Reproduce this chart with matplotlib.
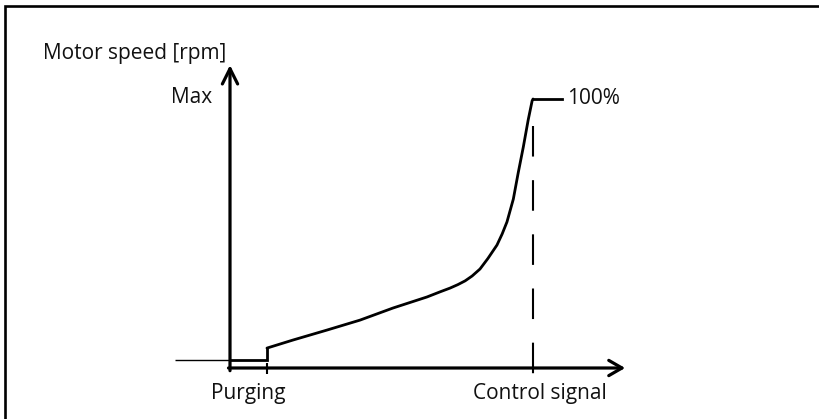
import matplotlib
matplotlib.use("Agg")
import matplotlib.pyplot as plt
from matplotlib.patches import Rectangle

plt.rcParams['font.family'] = ['Open Sans', 'DejaVu Sans']
plt.rcParams['lines.scale_dashes'] = False

# Data (control signal in %, motor speed in % of Max)
curve_x = [12.2, 20.8, 32.0, 42.9, 53.8, 65.0, 69.3, 72.6, 75.2, 77.6, 79.9, 82.5, 85.1,
           88.1, 89.8, 91.4, 93.5, 95.1, 96.8, 98.4, 99.7, 100.0]
curve_y = [7.4, 10.4, 14.1, 17.8, 22.3, 26.4, 28.3, 29.7, 31.0, 32.4, 34.2, 36.8, 40.7,
           45.7, 49.8, 54.3, 62.8, 72.5, 82.2, 92.2, 99.3, 100.0]
purge_x = [0.0, 12.2, 12.2]
purge_y = [3.0, 3.0, 7.4]
lead_x = [-18.2, 0.0]
lead_y = [3.0, 3.0]
top_x = [100.0, 109.6]
top_y = [100.0, 100.0]
purging_pos = 12.2
control_pos = 100.0
axis_x_end = 130.4
axis_y_end = 112.6
labels = {"y": "Motor speed [rpm]", "max": "Max", "pct": "100%",
          "purge": "Purging", "control": "Control signal"}

fig = plt.figure(figsize=(8.2, 4.19), dpi=100)
ax = fig.add_axes([0, 0, 1, 1])
ax.set_xlim(-75.9, 194.7)
ax.set_ylim(-18.96, 136.8)
ax.axis('off')

# frame (top and left only visible)
fig.patches.append(Rectangle((5.5 / 820, -0.5), 2.0, 1.5 - 5.5 / 419, transform=fig.transFigure,
                             fill=False, lw=1.9, edgecolor='black', zorder=0))

k = 'black'
# axes with arrows
ax.annotate('', xy=(0, axis_y_end), xytext=(0, -1.0),
            arrowprops=dict(arrowstyle='->,head_length=1.1,head_width=0.55', lw=2.3, color=k,
                            shrinkA=0, shrinkB=0))
ax.annotate('', xy=(axis_x_end, 0), xytext=(-0.5, 0),
            arrowprops=dict(arrowstyle='->,head_length=0.95,head_width=0.55', lw=2.3, color=k,
                            shrinkA=0, shrinkB=0))

# lines
ax.plot(lead_x, lead_y, color=k, lw=1.0, solid_capstyle='butt')
ax.plot(purge_x, purge_y, color=k, lw=2.0, solid_joinstyle='miter')
ax.plot(curve_x, curve_y, color=k, lw=2.0, solid_joinstyle='round', solid_capstyle='round')
ax.plot([curve_x[-1]] + top_x[1:], [curve_y[-1]] + top_y[1:], color=k, lw=2.0,
        solid_joinstyle='miter')

# dashed markers
ax.plot([control_pos, control_pos], [90.0, -2.4], color=k, lw=1.5,
        linestyle=(0, (22, 17)), dash_capstyle='butt')
ax.plot([purging_pos, purging_pos], [1.9, -2.4], color=k, lw=1.5, solid_capstyle='butt')

fs = 15
tc = '#111111'
ax.text(-61.7, 117.0, labels["y"], ha='left', va='center', fontsize=fs, color=tc)
ax.text(-5.9, 100.4, labels["max"], ha='right', va='center', fontsize=fs, color=tc)
ax.text(111.2, 100.2, labels["pct"], ha='left', va='center', fontsize=fs, color=tc)
ax.text(5.9, -9.3, labels["purge"], ha='center', va='center', fontsize=fs, color=tc)
ax.text(102.3, -9.3, labels["control"], ha='center', va='center', fontsize=fs, color=tc)

fig.savefig('out.png', dpi=100)
